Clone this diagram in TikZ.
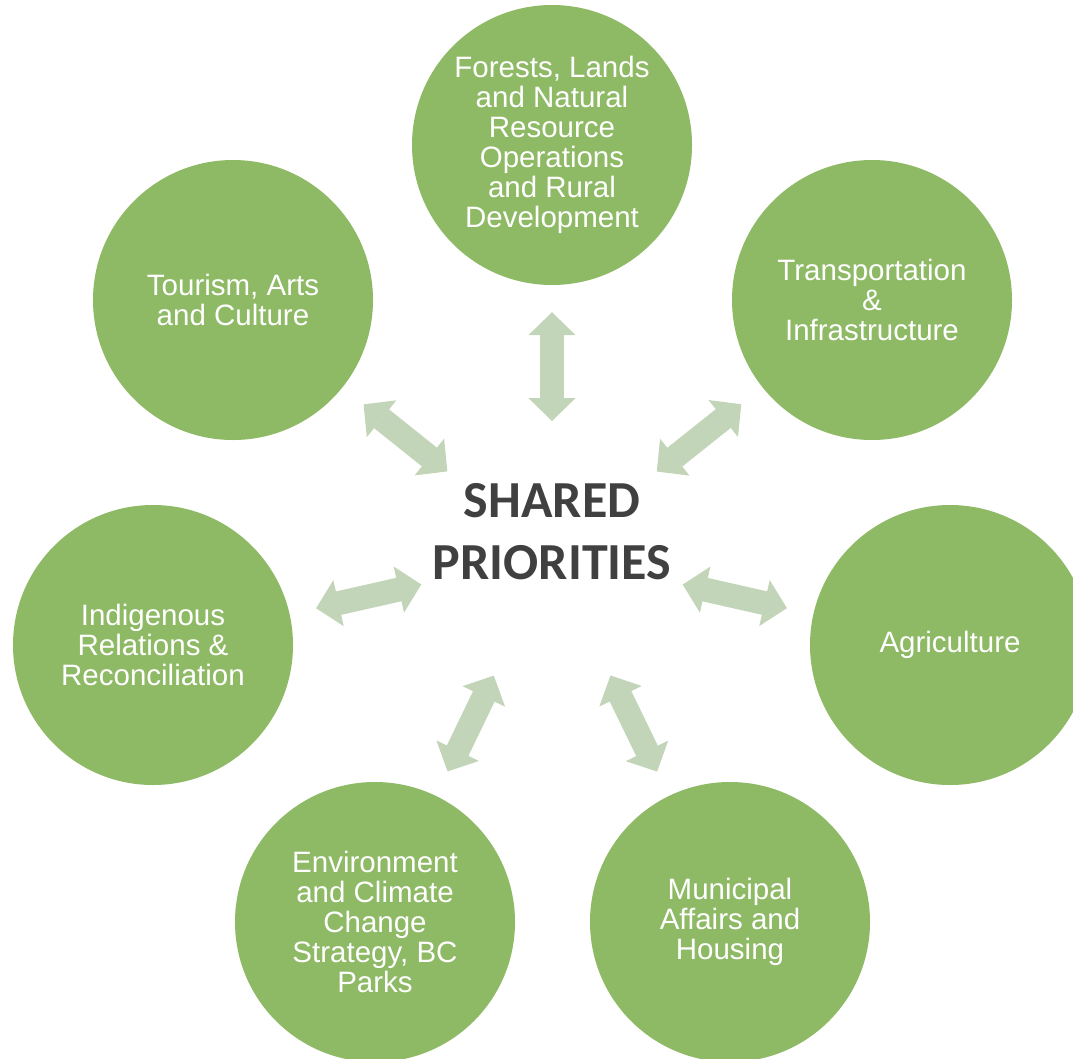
\documentclass[tikz,border=0pt]{standalone}
\usepackage{fontspec}
\setmainfont{Liberation Sans}
\newfontfamily\headfont{Carlito}
\usetikzlibrary{arrows.meta}

\definecolor{leaf}{HTML}{8EB965}
\definecolor{sage}{HTML}{C3D5B8}
\definecolor{ink}{HTML}{404040}

\tikzset{
  unit/.style={circle, fill=leaf, minimum size=280pt, inner sep=0pt, align=center,
    text=white, font=\fontsize{29.5}{30}\selectfont},
  link/.style={draw=sage, line width=24pt,
    {Triangle[width=47pt,length=23pt,line width=1pt]}-{Triangle[width=47pt,length=23pt,line width=1pt]},
    shorten <=134pt, shorten >=27pt}
}

\begin{document}
\begin{tikzpicture}[x=1pt,y=-1pt]
      % \draw[help lines, gray!50, very thin] (0,0) grid[step=50] (1073,1058);
      \useasboundingbox (0,0) rectangle (1073,1058);
      \clip (0,0) rectangle (1073,1058);

      \coordinate (focus) at (552,555);
      \node[font=\headfont\bfseries\fontsize{52}{62}\selectfont, text=ink, align=center] (shared) at (552,532) {SHARED\\PRIORITIES};

      \node[unit] (forests) at (552,145) {Forests, Lands\\and Natural\\Resource\\Operations\\and Rural\\Development};
      \node[unit] (transport) at (872,300) {Transportation\\\&\\Infrastructure};
      \node[unit] (agri) at (950,645) {Agriculture};
      \node[unit] (housing) at (730,922) {Municipal\\Affairs and\\Housing};
      \node[unit] (environ) at (375,922) {Environment\\and Climate\\Change\\Strategy, BC\\Parks};
      \node[unit] (indigenous) at (153,645) {Indigenous\\Relations \&\\Reconciliation};
      \node[unit] (tourism) at (233,300) {Tourism, Arts\\and Culture};

      \foreach \unit in {forests, transport, agri, housing, environ, indigenous, tourism}
        \draw[link] (focus) -- (\unit);
\end{tikzpicture}
\end{document}
